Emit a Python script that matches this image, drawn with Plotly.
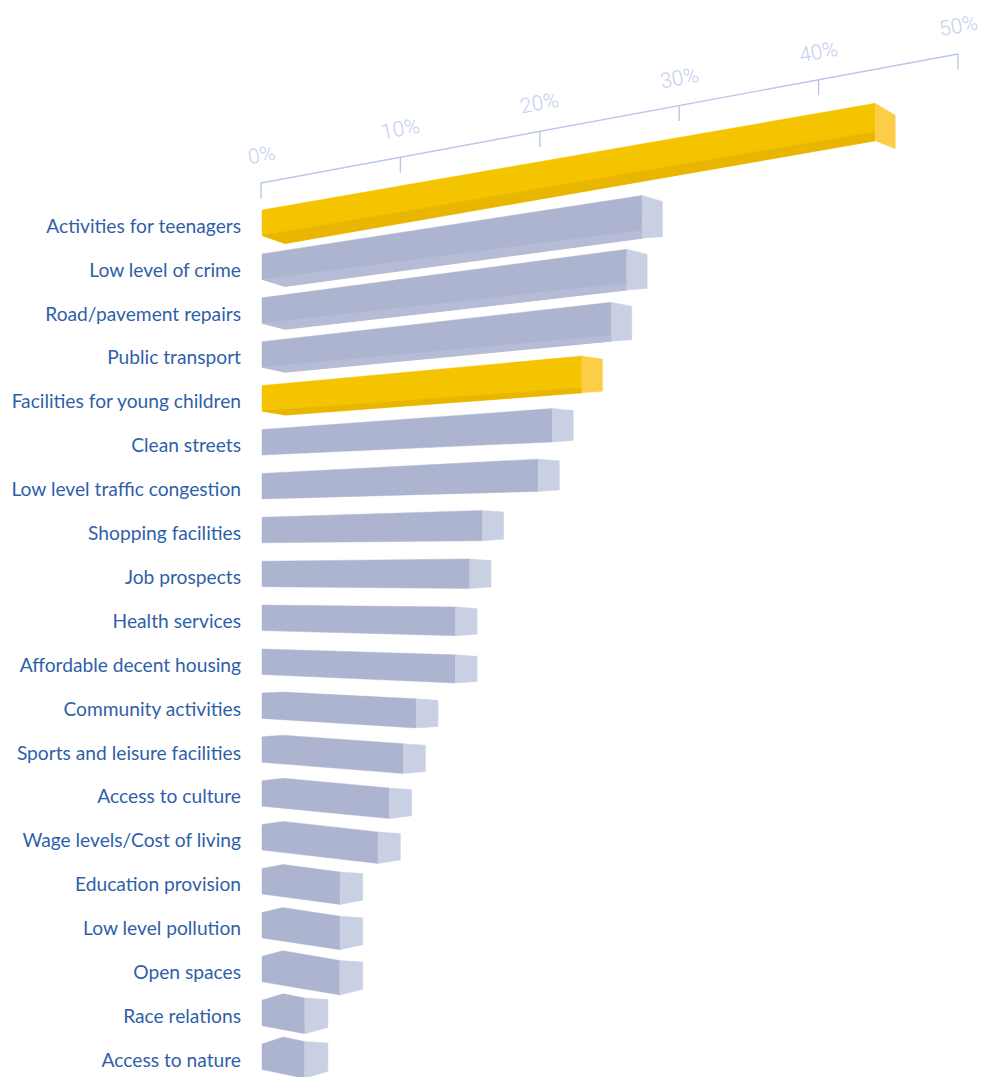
import plotly.graph_objects as go

# ---------- data ----------
categories = ["Activities for teenagers", "Low level of crime", "Road/pavement repairs",
              "Public transport", "Facilities for young children", "Clean streets",
              "Low level traffic congestion", "Shopping facilities", "Job prospects",
              "Health services", "Affordable decent housing", "Community activities",
              "Sports and leisure facilities", "Access to culture", "Wage levels/Cost of living",
              "Education provision", "Low level pollution", "Open spaces",
              "Race relations", "Access to nature"]
values = [45.5, 28.8, 27.7, 26.6, 24.5, 22.4, 21.4, 17.4, 16.5, 15.5,
          15.5, 12.7, 11.8, 10.8, 10.0, 7.3, 7.3, 7.3, 4.8, 4.8]
highlighted = ["Activities for teenagers", "Facilities for young children"]
axis_ticks = [0, 10, 20, 30, 40, 50]
axis_tick_labels = ["0%", "10%", "20%", "30%", "40%", "50%"]

# ---------- drawing scale ----------
W, H = 987, 1077
PX_PCT = 13.94     # pixels per percentage point
PX_ROW = 43.9      # pixels per category row
X0 = 261
Y0 = 226
AXIS_SLOPE = -129 / 697


def up(px):
    """vertical pixel offset -> row units"""
    return px / PX_ROW


def xu(px):
    """horizontal pixel offset -> percent units"""
    return px / PX_PCT


def soft(hex_color, a=0.45):
    h = hex_color.lstrip("#")
    return "rgba(%d,%d,%d,%s)" % (int(h[:2], 16), int(h[2:4], 16), int(h[4:], 16), a)


def poly(xs, ys, color):
    return go.Scatter(x=xs, y=ys, mode="lines", fill="toself", fillcolor=color,
                      line=dict(width=1, color=soft(color)), hoverinfo="skip", showlegend=False)


fig = go.Figure()

LEFT = xu(1)
PEAK = xu(22)
CHAMFER = xu(24)

for r, (cat, v) in enumerate(zip(categories, values)):
    yellow = cat in highlighted
    front = "#f5c400" if yellow else "#adb4cf"
    side = "#fcce48" if yellow else "#c9d0e3"
    facet = "#e8b600" if yellow else "#b6bcd6"

    depth = xu(20 + 0.17 * r)
    xf = v - depth

    s_top = -0.174 + 0.0204 * r
    if r == 0:
        s_bot = -0.174
    elif r < 5:
        s_bot = -0.155 + 0.02 * r
    else:
        s_bot = -0.134 + 0.0178 * r

    dt = max(0.0, (r - 10) * 0.8)
    db = 8 - r if r < 5 else 0

    yt = r + up(-16)
    yb = r + up(9.5)

    x_top0 = PEAK if dt > 0 else LEFT
    x_bot0 = CHAMFER if db > 0 else LEFT
    y_top0 = yt - up(dt)
    y_bot0 = yb + up(db)
    y1 = y_top0 + up(s_top * (xf - x_top0) * PX_PCT)
    y2 = y_bot0 + up(s_bot * (xf - x_bot0) * PX_PCT)

    d1 = 12 if r == 0 else max(1.5, 7 - r)
    k = -8 if r == 0 else max(1.5, (r - 9) * 0.7)

    # front face
    xs = [LEFT] + ([PEAK] if dt > 0 else []) + [xf, xf] + ([CHAMFER] if db > 0 else []) + [LEFT, LEFT]
    ys = [yt] + ([y_top0] if dt > 0 else []) + [y1, y2] + ([y_bot0] if db > 0 else []) + [yb, yt]
    fig.add_trace(poly(xs, ys, front))

    # underside facet on the upper bars
    if db > 0:
        fig.add_trace(poly([LEFT, CHAMFER, xf, xf, LEFT],
                           [yb, y_bot0, y2, y2 - up(9 - r), yb], facet))

    # end face
    fig.add_trace(poly([xf, v, v, xf, xf],
                       [y1, y1 + up(d1), y2 - up(k), y2, y1], side))

# sloping value axis
axis_color = "#b9c7e8"
axis_y = [up(183 - Y0 + AXIS_SLOPE * t * PX_PCT) for t in axis_ticks]
fig.add_trace(go.Scatter(x=axis_ticks, y=axis_y, mode="lines",
                         line=dict(color=axis_color, width=1.4),
                         hoverinfo="skip", showlegend=False))
for t, ay, lab in zip(axis_ticks, axis_y, axis_tick_labels):
    fig.add_trace(go.Scatter(x=[t, t], y=[ay, ay + up(15.5)], mode="lines",
                             line=dict(color=axis_color, width=1.4),
                             hoverinfo="skip", showlegend=False))
    fig.add_annotation(x=t, y=ay - up(28), text=lab, showarrow=False, textangle=-10.5,
                       xanchor="center", yanchor="middle",
                       font=dict(family="Roboto", size=21, weight=300, color="#c3cfec"))

fig.update_layout(
    width=W, height=H, autosize=False,
    margin=dict(l=0, r=0, t=0, b=0),
    paper_bgcolor="white", plot_bgcolor="white",
    showlegend=False,
    xaxis=dict(range=[-X0 / PX_PCT, (W - X0) / PX_PCT], visible=False, domain=[0, 1]),
    yaxis=dict(range=[(H - Y0) / PX_ROW, -Y0 / PX_ROW], anchor="free", position=241 / W,
               tickmode="array", tickvals=list(range(len(categories))), ticktext=categories,
               tickfont=dict(family="Lato", size=19.2, color="#2f5fa9"),
               ticks="", showgrid=False, zeroline=False, showline=False),
)

fig.write_html("out.html", config={"displayModeBar": False},
               post_script="document.body.style.margin='0';document.body.style.overflow='hidden';")
